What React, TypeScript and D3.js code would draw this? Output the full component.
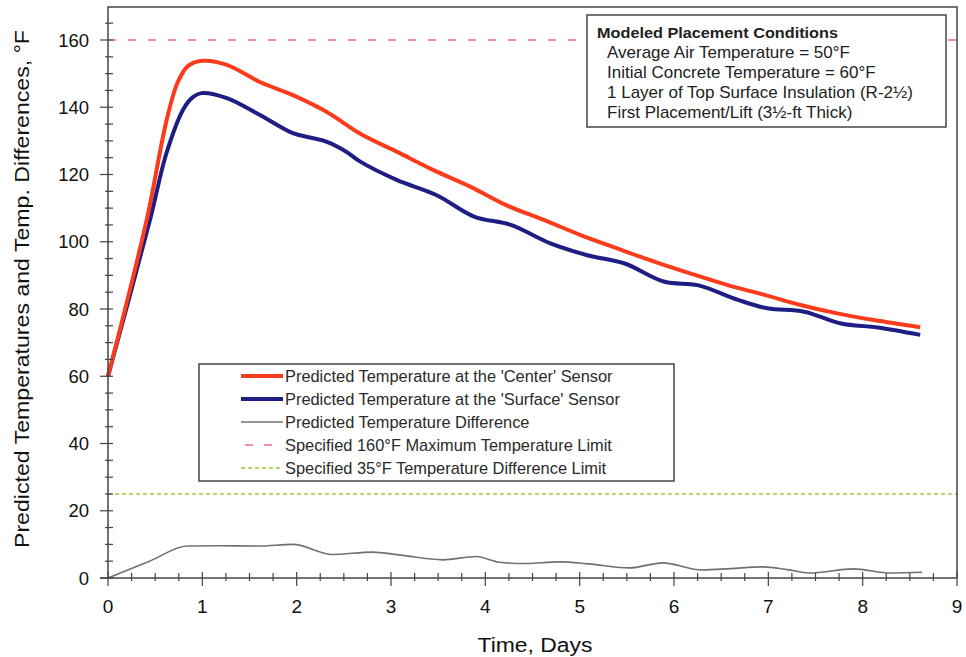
import React from "react";
import * as d3 from "d3";

const centerDays = [0, 0.41, 0.62, 0.74, 0.85, 1.0, 1.26, 1.61, 1.96, 2.32, 2.67, 3.06, 3.45, 3.84, 4.22, 4.62, 5.01, 5.4, 5.79, 6.17, 6.57, 6.96, 7.34, 7.73, 8.12, 8.61];
const centerTemps = [60, 106.5, 136, 147.5, 152.3, 153.8, 152.6, 147.5, 143.6, 138.6, 132.2, 126.8, 121.3, 116.4, 110.9, 106.5, 102, 98, 94.1, 90.6, 87.1, 84.2, 81.2, 78.7, 76.7, 74.6];

const surfaceDays = [0, 0.445, 0.62, 0.8, 0.9, 0.99, 1.26, 1.61, 1.96, 2.14, 2.32, 2.53, 2.67, 3.06, 3.48, 3.88, 4.27, 4.69, 5.08, 5.47, 5.9, 6.25, 6.68, 6.99, 7.38, 7.77, 8.16, 8.61];
const surfaceTemps = [60, 106.5, 126.4, 139.5, 143, 144.2, 142.7, 137.7, 132.3, 131, 129.7, 126.7, 123.9, 118.4, 113.9, 107.5, 105, 99.5, 96, 93.6, 88.1, 87.1, 82.7, 80.2, 79.2, 75.7, 74.5, 72.3];

const diffDays = [0, 0.44, 0.84, 1.2, 1.6, 1.96, 2.38, 2.8, 3.1, 3.55, 3.9, 4.15, 4.4, 4.79, 5.1, 5.53, 5.88, 6.3, 6.6, 6.94, 7.2, 7.43, 7.9, 8.3, 8.63];
const diffValues = [0, 5, 9.5, 9.6, 9.5, 10, 7, 7.7, 6.8, 5.4, 6.4, 4.7, 4.3, 4.8, 4.2, 3, 4.5, 2.4, 2.8, 3.3, 2.5, 1.5, 2.7, 1.5, 1.7];

const maxTempLimit = 160;
const diffLimitLine = 25;

const xTicks = [0, 1, 2, 3, 4, 5, 6, 7, 8, 9];
const yTicks = [0, 20, 40, 60, 80, 100, 120, 140, 160];

const legendLabels = [
  "Predicted Temperature at the 'Center' Sensor",
  "Predicted Temperature at the 'Surface' Sensor",
  "Predicted Temperature Difference",
  "Specified 160°F Maximum Temperature Limit",
  "Specified 35°F Temperature Difference Limit",
];

const infoTitle = "Modeled Placement Conditions";
const infoLines = [
  "Average Air Temperature = 50°F",
  "Initial Concrete Temperature = 60°F",
  "1 Layer of Top Surface Insulation (R-2½)",
  "First Placement/Lift (3½-ft Thick)",
];

const FONT = "'Liberation Sans', Arial, sans-serif";
const RED = "#fb3c1c";
const BLUE = "#1d1d84";
const GRAY = "#707070";
const PINK = "#ee6a8e";
const GREEN = "#9cc63a";

export default function App() {
  const W = 966, H = 657;
  const left = 108, right = 957, top = 7, bottom = 578;
  const x = d3.scaleLinear().domain([0, 9]).range([left, right]);
  const y = d3.scaleLinear().domain([0, 160]).range([bottom, 40]);

  const smooth = d3
    .line<[number, number]>()
    .x((d) => x(d[0]))
    .y((d) => y(d[1]))
    .curve(d3.curveCatmullRom.alpha(0.5));

  const line = d3
    .line<[number, number]>()
    .x((d) => x(d[0]))
    .y((d) => y(d[1]))
    .curve(d3.curveMonotoneX);

  const zip = (a: number[], b: number[]) => a.map((v, i) => [v, b[i]] as [number, number]);

  const xMinor = d3.range(0, 9.001, 0.25);
  const yMinor = d3.range(0, 165.001, 5);

  const legX = 199, legY = 364, legW = 475, legH = 117;
  const rowY = (i: number) => legY + 12 + i * 23;

  return (
    <svg width={W} height={H} style={{ display: "block", position: "absolute", left: 0, top: 0 }} fontFamily={FONT}>
      <rect x={0} y={0} width={W} height={H} fill="#fff" />
      {/* reference lines */}
      <line x1={left} x2={right} y1={y(maxTempLimit)} y2={y(maxTempLimit)} stroke={PINK} strokeWidth={1.5} strokeDasharray="8,12" />
      <line x1={left} x2={right} y1={y(diffLimitLine)} y2={y(diffLimitLine)} stroke={GREEN} strokeWidth={1.6} strokeDasharray="4,3" />

      {/* series */}
      <path d={line(zip(diffDays, diffValues)) || ""} fill="none" stroke={GRAY} strokeWidth={1.6} />
      <path d={smooth(zip(surfaceDays, surfaceTemps)) || ""} fill="none" stroke={BLUE} strokeWidth={4} strokeLinejoin="round" />
      <path d={smooth(zip(centerDays, centerTemps)) || ""} fill="none" stroke={RED} strokeWidth={4} strokeLinejoin="round" />

      {/* frame */}
      <path d={`M${left},${bottom} V${top} H${right} V${bottom}`} fill="none" stroke="#444" strokeWidth={1.5} />
      <line x1={left - 8} x2={right} y1={bottom} y2={bottom} stroke="#444" strokeWidth={1.5} />

      {/* x ticks */}
      {xMinor.map((t, i) => {
        const major = Math.abs(t - Math.round(t)) < 1e-6;
        return (
          <line key={"xm" + i} x1={x(t)} x2={x(t)} y1={bottom - (major ? 6 : 5)} y2={bottom + (major ? 8 : 3)} stroke="#444" strokeWidth={1.2} />
        );
      })}
      {xTicks.map((t) => (
        <text key={"xt" + t} x={x(t)} y={613} textAnchor="middle" fontSize={19} fill="#111">
          {t}
        </text>
      ))}
      {/* y ticks */}
      {yMinor.map((t, i) => {
        const major = t % 20 === 0;
        return (
          <line key={"ym" + i} x1={left - (major ? 8 : 3)} x2={left + 5} y1={y(t)} y2={y(t)} stroke="#444" strokeWidth={1.2} />
        );
      })}
      {yTicks.map((t) => (
        <text key={"yt" + t} x={89} y={y(t) + 6.5} textAnchor="end" fontSize={18.5} fill="#111">
          {t}
        </text>
      ))}

      {/* axis titles */}
      <text x={535} y={652} textAnchor="middle" fontSize={20} fill="#111" textLength={115} lengthAdjust="spacingAndGlyphs">
        Time, Days
      </text>
      <text transform={`translate(29,289) rotate(-90)`} textAnchor="middle" fontSize={20} fill="#111" textLength={518} lengthAdjust="spacingAndGlyphs">
        Predicted Temperatures and Temp. Differences, °F
      </text>

      {/* info box */}
      <rect x={587} y={15} width={359} height={112} fill="#fff" stroke="#444" strokeWidth={1.5} />
      <text x={597} y={38} fontSize={15} fontWeight="bold" fill="#222" textLength={241} lengthAdjust="spacingAndGlyphs">
        {infoTitle}
      </text>
      {infoLines.map((s, i) => (
        <text key={s} x={607} y={58 + i * 20} fontSize={17} fill="#222">
          {s}
        </text>
      ))}

      {/* legend */}
      <rect x={legX} y={legY} width={legW} height={legH} fill="#fff" stroke="#444" strokeWidth={1.5} />
      <line x1={241} x2={283} y1={rowY(0)} y2={rowY(0)} stroke={RED} strokeWidth={4} />
      <line x1={241} x2={283} y1={rowY(1)} y2={rowY(1)} stroke={BLUE} strokeWidth={4} />
      <line x1={241} x2={283} y1={rowY(2)} y2={rowY(2)} stroke={GRAY} strokeWidth={1.6} />
      <line x1={241} x2={283} y1={rowY(3)} y2={rowY(3)} stroke={PINK} strokeWidth={1.5} strokeDasharray="8,11" strokeDashoffset={-4} />
      <line x1={241} x2={283} y1={rowY(4)} y2={rowY(4)} stroke={GREEN} strokeWidth={1.6} strokeDasharray="4,3" />
      {legendLabels.map((s, i) => (
        <text key={s} x={285} y={rowY(i) + 6} fontSize={16.4} fill="#2a2a2a">
          {s}
        </text>
      ))}
    </svg>
  );
}
